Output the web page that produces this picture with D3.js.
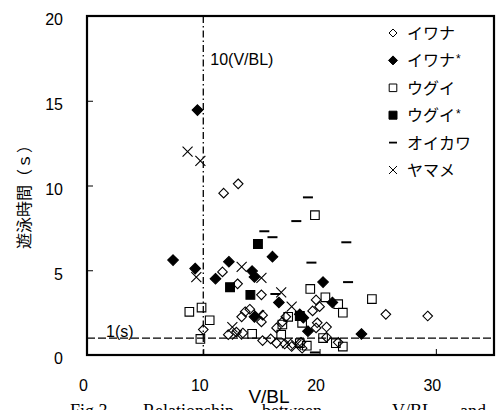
<!DOCTYPE html>
<html>
<head>
<meta charset="utf-8">
<script src="https://cdn.jsdelivr.net/npm/d3@7"></script>
<style>
  body { margin: 0; background: #fff; }
  svg { display: block; }
  .tick text { font-family: "Liberation Sans", Arial, sans-serif; font-size: 16px; fill: #000; }
</style>
</head>
<body>
<div id="chart"></div>
<script>
// tick labels
const xTicks = [0, 10, 20, 30];
const yTicks = [0, 5, 10, 15, 20];

// series names (legend order)
const seriesNames = ["イワナ", "イワナ*", "ウグイ", "ウグイ*", "オイカワ", "ヤマメ"];

// [V/BL, swimming time (s)]
const iwana = [
  [11.75, 9.55], [13.0, 10.1], [11.65, 4.9], [12.95, 4.2], [15.0, 3.55], [10.0, 1.5],
  [12.15, 1.2], [12.85, 1.35], [13.4, 1.3], [13.3, 2.25], [13.6, 2.55], [14.0, 2.7],
  [15.1, 2.35], [15.0, 1.95], [15.1, 0.85], [15.8, 0.95], [16.3, 0.7], [16.3, 1.6],
  [16.8, 1.95], [17.1, 2.25], [17.0, 0.65], [17.6, 0.5], [18.4, 0.75], [18.5, 0.4],
  [19.7, 1.6], [19.8, 1.9], [20.6, 1.65], [19.7, 3.25], [20.0, 2.85], [19.4, 2.6],
  [20.6, 1.05], [21.6, 0.75], [25.7, 2.4], [29.3, 2.3]
];
const iwanaStar = [
  [9.5, 14.45], [7.4, 5.6], [9.3, 5.1], [11.05, 4.5], [12.2, 5.5], [14.2, 4.95],
  [14.4, 4.6], [15.95, 5.8], [16.5, 3.1], [14.4, 2.25], [20.3, 4.3], [21.1, 3.1],
  [18.3, 2.4], [18.6, 2.2], [19.0, 1.4], [23.6, 1.24]
];
const ugui = [
  [8.8, 2.55], [9.85, 2.8], [10.55, 2.05], [9.75, 0.95], [14.2, 1.25], [16.8, 1.8],
  [17.3, 2.25], [18.5, 1.9], [18.3, 0.7], [18.9, 0.55], [19.2, 3.9], [19.6, 8.25],
  [20.5, 3.4], [21.6, 3.0], [22.0, 2.5], [24.5, 3.3], [20.3, 1.0], [21.4, 0.7],
  [22.0, 0.5], [16.7, 1.2]
];
const uguiStar = [[14.7, 6.55], [12.3, 4.0], [14.05, 3.55], [18.3, 2.3]];
const oikawa = [
  [19.0, 9.3], [18.0, 7.9], [15.25, 7.3], [15.95, 6.95], [22.3, 6.65], [19.3, 5.45],
  [22.45, 4.3], [16.2, 3.6], [19.6, 0.15]
];
const yamame = [
  [8.65, 12.0], [9.75, 11.45], [9.4, 4.6], [13.3, 5.2], [15.0, 4.55], [16.7, 3.7],
  [17.6, 2.85], [12.5, 1.65], [12.9, 1.2], [17.2, 0.7], [18.0, 0.6], [14.8, 2.35]
];

// reference lines
const refV = 10;
const refH = 1;

const W = 499, H = 410;
const svg = d3.select("#chart").append("svg").attr("width", W).attr("height", H);

const x = d3.scaleLinear().domain([0, 35]).range([87, 494]);
const y = d3.scaleLinear().domain([0, 20]).range([355, 16]);

// marker shapes
function markerPath(shape, r) {
  if (shape === "diamond") return `M0,${-r}L${r},0L0,${r}L${-r},0Z`;
  if (shape === "square") return `M${-r},${-r}h${2 * r}v${2 * r}h${-2 * r}Z`;
  if (shape === "cross") return `M${-r},${-r}L${r},${r}M${-r},${r}L${r},${-r}`;
  return `M${-r},0H${r}`; // dash
}

const series = [
  { name: seriesNames[0], data: iwana, shape: "diamond", filled: false, r: 4.8, lr: 4 },
  { name: seriesNames[1], data: iwanaStar, shape: "diamond", filled: true, r: 5.3, lr: 4.5 },
  { name: seriesNames[2], data: ugui, shape: "square", filled: false, r: 4.3, lr: 3.8 },
  { name: seriesNames[3], data: uguiStar, shape: "square", filled: true, r: 4.4, lr: 4 },
  { name: seriesNames[4], data: oikawa, shape: "dash", filled: false, r: 5, lr: 4 },
  { name: seriesNames[5], data: yamame, shape: "cross", filled: false, r: 5, lr: 4 }
];

function styleMarker(sel, s) {
  sel.attr("fill", s.filled ? "#000" : "none")
    .attr("stroke", "#000")
    .attr("stroke-width", s.shape === "dash" ? 2 : 1.1);
}

// axes (inward ticks)
const yAxis = d3.axisLeft(y).tickValues(yTicks).tickSize(-6).tickPadding(24);
svg.append("g").attr("transform", `translate(${x(0)},0)`).call(yAxis)
  .call(g => g.select(".domain").remove())
  .call(g => g.selectAll(".tick text").attr("dy", "0.55em"));

const xAxis = d3.axisBottom(x).tickValues(xTicks).tickSize(-6).tickPadding(25);
svg.append("g").attr("transform", `translate(0,${y(0)})`).call(xAxis)
  .call(g => g.select(".domain").remove())
  .call(g => g.selectAll(".tick text").attr("dx", "-4"));

// frame
svg.append("rect")
  .attr("x", x(0)).attr("y", y(20))
  .attr("width", x(35) - x(0)).attr("height", y(0) - y(20))
  .attr("fill", "none").attr("stroke", "#000").attr("stroke-width", 2.2);

// reference lines
svg.append("line")
  .attr("x1", x(refV)).attr("x2", x(refV)).attr("y1", y(20)).attr("y2", y(0))
  .attr("stroke", "#000").attr("stroke-width", 1.3).attr("stroke-dasharray", "7,3,1.5,3");
svg.append("line")
  .attr("x1", x(0)).attr("x2", x(35)).attr("y1", y(refH)).attr("y2", y(refH))
  .attr("stroke", "#000").attr("stroke-width", 1.3).attr("stroke-dasharray", "8,3");

const labelFont = "'Liberation Sans', Arial, sans-serif";
svg.append("text").attr("x", x(refV) + 7).attr("y", 65)
  .attr("font-family", labelFont).attr("font-size", 16).text("10(V/BL)");
svg.append("text").attr("x", 106).attr("y", 337)
  .attr("font-family", labelFont).attr("font-size", 16).text("1(s)");

// points
series.forEach(s => {
  svg.append("g").selectAll("path")
    .data(s.data)
    .join("path")
    .attr("transform", d => `translate(${x(d[0])},${y(d[1])})`)
    .attr("d", markerPath(s.shape, s.r))
    .call(sel => styleMarker(sel, s));
});

// legend
const jpFont = "'Noto Sans CJK JP', sans-serif";
const legend = svg.append("g");
series.forEach((s, i) => {
  const ly = 33 + i * 27.4;
  legend.append("path")
    .attr("transform", `translate(393,${ly})`)
    .attr("d", markerPath(s.shape, s.lr))
    .call(sel => styleMarker(sel, s))
    .attr("stroke-width", s.shape === "dash" ? 1.8 : 1);
  const t = legend.append("text").attr("x", 407).attr("y", ly + 6)
    .attr("font-family", jpFont).attr("font-size", 16);
  const star = s.name.endsWith("*");
  t.append("tspan").text(star ? s.name.slice(0, -1) : s.name);
  if (star) {
    t.append("tspan").attr("font-family", labelFont).attr("font-size", 12)
      .attr("dx", 1).attr("dy", -3).text("*");
  }
});

// axis titles
svg.append("text")
  .attr("transform", "translate(30,193) rotate(-90)")
  .attr("text-anchor", "middle")
  .attr("font-family", jpFont).attr("font-size", 16)
  .text("遊泳時間（ｓ）");
svg.append("text").attr("x", 269).attr("y", 403)
  .attr("text-anchor", "middle")
  .attr("font-family", labelFont).attr("font-size", 19)
  .text("V/BL");

// caption (cut off at the bottom of the window, as in the source figure)
const captionWords = [["Fig.3", 70], ["Relationship", 143], ["between", 262], ["V/BL", 392], ["and", 460]];
svg.append("g").selectAll("text")
  .data(captionWords)
  .join("text")
  .attr("x", d => d[1]).attr("y", 417)
  .attr("font-family", "'Liberation Serif', 'Times New Roman', serif")
  .attr("font-size", 18)
  .text(d => d[0]);
</script>
</body>
</html>
